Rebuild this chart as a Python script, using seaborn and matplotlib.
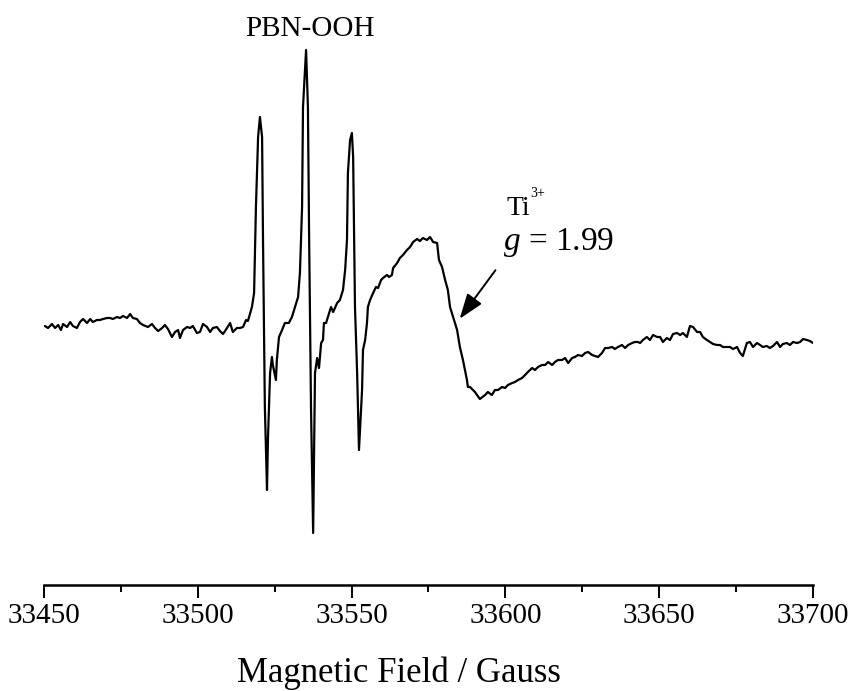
import numpy as np
import pandas as pd
import matplotlib
matplotlib.use("Agg")
import matplotlib.pyplot as plt
import seaborn as sns

# field (Gauss) and EPR signal (arb. units)
field = [
    33450.3, 33451.3, 33452.6, 33453.6, 33454.6, 33455.5, 33456.2, 33457.5, 33458.5, 33459.4,
    33460.7, 33461.7, 33462.7, 33464.0, 33465.0, 33465.9, 33467.2, 33468.2, 33469.2, 33470.5,
    33471.5, 33472.4, 33473.7, 33474.7, 33475.7, 33477.0, 33478.0, 33478.9, 33480.2, 33481.2,
    33482.2, 33483.8, 33485.1, 33486.1, 33487.1, 33488.4, 33489.3, 33490.3, 33491.6, 33492.6,
    33493.6, 33494.2, 33495.2, 33496.5, 33497.5, 33498.4, 33499.7, 33500.7, 33501.7, 33503.0,
    33504.0, 33504.9, 33506.2, 33507.2, 33508.2, 33509.5, 33510.5, 33511.4, 33512.7, 33513.7,
    33514.7, 33515.7, 33516.3, 33517.6, 33518.3, 33518.9, 33519.6, 33520.2, 33520.9, 33521.2,
    33521.8, 33522.5, 33522.8, 33523.5, 33524.1, 33524.4, 33525.4, 33525.7, 33526.4, 33527.4,
    33528.3, 33529.6, 33530.6, 33531.6, 33532.6, 33533.2, 33533.9, 33534.2, 33535.2, 33535.8,
    33536.2, 33536.8, 33537.5, 33538.1, 33538.8, 33539.4, 33540.1, 33540.7, 33541.0, 33541.7,
    33542.3, 33543.3, 33544.0, 33545.3, 33546.2, 33547.2, 33547.9, 33548.5, 33548.8, 33549.5,
    33550.1, 33550.5, 33551.1, 33551.8, 33552.4, 33553.4, 33553.7, 33554.4, 33555.0, 33555.3,
    33556.0, 33557.0, 33557.9, 33558.6, 33559.6, 33560.2, 33561.5, 33562.2, 33563.1, 33563.5,
    33564.8, 33565.7, 33566.7, 33568.0, 33569.0, 33570.0, 33571.3, 33572.2, 33573.2, 33574.5,
    33575.5, 33576.5, 33577.8, 33578.4, 33579.4, 33580.4, 33581.3, 33582.0, 33583.0, 33584.3,
    33585.2, 33586.2, 33587.5, 33587.8, 33588.5, 33590.1, 33591.7, 33593.4, 33594.3, 33595.6,
    33596.6, 33597.6, 33598.9, 33599.9, 33600.8, 33602.2, 33603.1, 33604.1, 33605.4, 33606.4,
    33607.3, 33608.7, 33609.6, 33610.6, 33611.9, 33612.9, 33613.9, 33615.2, 33616.1, 33617.1,
    33618.4, 33619.4, 33620.4, 33621.7, 33622.6, 33623.6, 33624.9, 33625.9, 33626.9, 33628.2,
    33629.1, 33630.1, 33631.4, 33632.4, 33633.4, 33634.7, 33635.6, 33636.6, 33637.9, 33638.9,
    33639.9, 33641.2, 33642.1, 33643.1, 33643.8, 33644.7, 33646.0, 33647.0, 33648.0, 33649.3,
    33650.3, 33651.2, 33652.5, 33653.5, 33654.5, 33655.8, 33656.8, 33657.7, 33659.0, 33660.0,
    33661.0, 33662.3, 33663.3, 33664.2, 33665.5, 33666.5, 33667.5, 33668.8, 33669.8, 33670.7,
    33672.0, 33673.0, 33674.0, 33675.3, 33676.3, 33677.2, 33678.5, 33679.5, 33680.5, 33681.8,
    33682.8, 33683.7, 33685.0, 33686.0, 33687.0, 33688.3, 33689.3, 33690.2, 33691.5, 33692.5,
    33693.5, 33694.8, 33695.8, 33696.8, 33698.0, 33699.0, 33700.0,
]
signal = [
    -1, -3, 1, -3, 0, -5, 1, -2, 3, -1,
    -3, 3, 6, 2, 6, 3, 5, 5, 6, 7,
    7, 6, 8, 7, 9, 7, 11, 7, 6, 2,
    0, -2, 1, -3, -6, -3, 0, -4, -12, -7,
    -5, -13, -5, -2, -3, -1, -8, -7, 1, -2,
    -7, -3, -2, -6, -9, -3, 2, -7, -3, -3,
    -2, 5, 4, 18, 32, 118, 188, 208, 188, 85,
    -82, -165, -115, -48, -32, -40, -55, -35, -12, -5,
    2, 2, 8, 18, 28, 52, 118, 218, 275, 218,
    85, -82, -208, -48, -33, -43, -18, -15, 2, 2,
    8, 18, 13, 22, 25, 35, 55, 85, 152, 185,
    192, 168, 18, -48, -125, -65, -25, -15, 2, 18,
    25, 32, 38, 37, 45, 47, 50, 48, 50, 57,
    62, 67, 70, 75, 78, 83, 86, 84, 87, 85,
    88, 83, 82, 65, 58, 45, 35, 18, 8, -5,
    -22, -35, -55, -62, -62, -67, -74, -70, -67, -70,
    -65, -65, -62, -63, -60, -58, -57, -55, -53, -50,
    -47, -43, -45, -42, -40, -40, -37, -40, -37, -35,
    -35, -33, -38, -33, -32, -30, -31, -28, -27, -30,
    -31, -32, -28, -23, -23, -22, -24, -22, -20, -23,
    -20, -18, -17, -17, -18, -15, -12, -15, -10, -12,
    -12, -17, -13, -15, -9, -8, -10, -8, -12, -1,
    -2, -7, -7, -12, -15, -17, -19, -20, -20, -22,
    -22, -22, -24, -22, -28, -31, -18, -17, -22, -18,
    -20, -22, -21, -23, -21, -17, -22, -19, -18, -20,
    -17, -18, -17, -14, -15, -16, -18,
]

df = pd.DataFrame({"field": field, "signal": signal})

sns.set_style("ticks")
plt.rcParams["font.family"] = ["Liberation Serif", "DejaVu Serif"]
plt.rcParams["mathtext.fontset"] = "custom"
plt.rcParams["mathtext.rm"] = "Liberation Serif"
plt.rcParams["mathtext.it"] = "Liberation Serif:italic"
plt.rcParams["text.color"] = "black"
plt.rcParams["axes.labelcolor"] = "black"
plt.rcParams["xtick.color"] = "black"
plt.rcParams["axes.edgecolor"] = "black"

fig = plt.figure(figsize=(8.48, 6.91), dpi=100)
ax = fig.add_axes([44 / 848, (691 - 585) / 691, 769 / 848, 585 / 691])

sns.lineplot(data=df, x="field", y="signal", color="black", linewidth=1.6,
             estimator=None, sort=False, ax=ax)

ax.set_xlim(33450, 33700)
ax.set_ylim(-260, 325)
ax.set_xticks(np.arange(33450, 33701, 50))
ax.set_xticks(np.arange(33475, 33700, 50), minor=True)
ax.tick_params(axis="x", which="major", length=9, width=1.4, labelsize=21, pad=4)
ax.tick_params(axis="x", which="minor", length=5, width=1.4)
ax.set_yticks([])
ax.set_ylabel("")
ax.set_xlabel("Magnetic Field / Gauss", fontsize=25)
ax.xaxis.set_label_coords(0.462, -0.123)
sns.despine(ax=ax, left=True, top=True, right=True)
ax.spines["bottom"].set_linewidth(1.8)

ax.text(33536.5, 296, "PBN-OOH", fontsize=21, ha="center", va="center")
ax.text(33600.5, 110, "Ti", fontsize=20, ha="left", va="baseline")
ax.annotate("3+", xy=(33600.5, 110), xytext=(17, 13), textcoords="offset points",
            fontsize=10, ha="left", va="baseline")
ax.text(33599.2, 75, "$g$ = 1.99", fontsize=24, ha="left", va="baseline")
ax.annotate("", xy=(33584.6, 4), xytext=(33597.3, 57),
            arrowprops=dict(arrowstyle="-|>,head_length=0.7,head_width=0.25",
                            color="black", lw=1.4, mutation_scale=22))

fig.savefig("out.png", dpi=100)
